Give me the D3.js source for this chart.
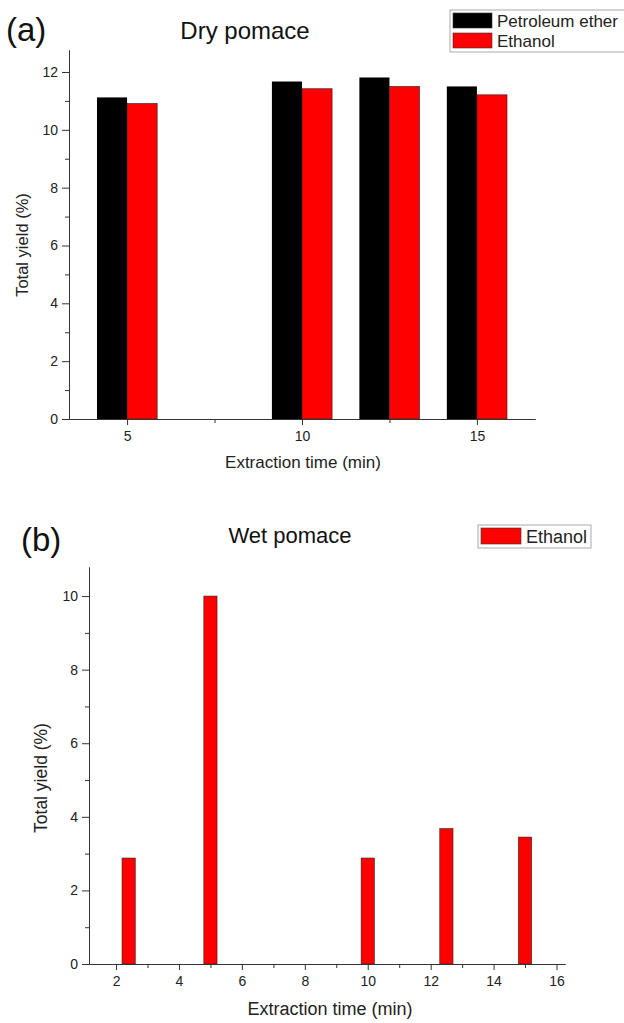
<!DOCTYPE html>
<html>
<head>
<meta charset="utf-8">
<script src="https://cdn.jsdelivr.net/npm/d3@7"></script>
<style>
  body { margin: 0; background: #fff; }
  svg { font-family: "Liberation Sans", Arial, sans-serif; }
  .tick text { font-family: "Liberation Sans", Arial, sans-serif; font-size: 14px; fill: #222; }
  .axis path, .axis line { stroke: #333; }
</style>
</head>
<body>
<svg id="chart" width="624" height="1023"></svg>
<script>
// panel (a) dry pomace
var dryTimes = [5, 10, 12.5, 15];
var dryPetroleum = [11.12, 11.67, 11.81, 11.5];
var dryEthanol = [10.91, 11.42, 11.5, 11.21];
var dryXTicks = [5, 10, 15], dryXMinor = [7.5, 12.5];
var dryYTicks = [0, 2, 4, 6, 8, 10, 12], dryYMinor = [1, 3, 5, 7, 9, 11];

// panel (b) wet pomace
var wetTimes = [2.4, 5, 10, 12.5, 15];
var wetEthanol = [2.88, 10.0, 2.88, 3.68, 3.45];
var wetXTicks = [2, 4, 6, 8, 10, 12, 14, 16], wetXMinor = [3, 5, 7, 9, 11, 13, 15];
var wetYTicks = [0, 2, 4, 6, 8, 10], wetYMinor = [1, 3, 5, 7, 9];

var svg = d3.select("#chart");

function drawAxes(x, y, xt, xm, yt, ym) {
  var bottom = y.range()[0], left = x.range()[0];
  svg.append("g").attr("class", "axis")
      .attr("transform", "translate(0," + bottom + ")")
      .call(d3.axisBottom(x).tickValues(xm).tickSize(4).tickSizeOuter(0).tickFormat(""));
  svg.append("g").attr("class", "axis")
      .attr("transform", "translate(0," + bottom + ")")
      .call(d3.axisBottom(x).tickValues(xt).tickSize(6).tickSizeOuter(0).tickPadding(6));
  svg.append("g").attr("class", "axis")
      .attr("transform", "translate(" + left + ",0)")
      .call(d3.axisLeft(y).tickValues(ym).tickSize(4).tickSizeOuter(0).tickFormat(""));
  svg.append("g").attr("class", "axis")
      .attr("transform", "translate(" + left + ",0)")
      .call(d3.axisLeft(y).tickValues(yt).tickSize(7).tickSizeOuter(0).tickPadding(4));
}

// ---- (a)
var xa = d3.scaleLinear().domain([3.34, 16.66]).range([69, 535]);
var ya = d3.scaleLinear().domain([0, 12.76]).range([419, 50]);
var bwA = 0.86;

svg.append("g").selectAll("rect.pe")
  .data(dryTimes)
  .enter().append("rect")
    .attr("x", function(d) { return xa(d - bwA); })
    .attr("width", function(d) { return xa(d) - xa(d - bwA); })
    .attr("y", function(d, i) { return ya(dryPetroleum[i]); })
    .attr("height", function(d, i) { return ya(0) - ya(dryPetroleum[i]); })
    .attr("fill", "#000");

svg.append("g").selectAll("rect.et")
  .data(dryTimes)
  .enter().append("rect")
    .attr("x", function(d) { return xa(d); })
    .attr("width", function(d) { return xa(d + bwA) - xa(d); })
    .attr("y", function(d, i) { return ya(dryEthanol[i]); })
    .attr("height", function(d, i) { return ya(0) - ya(dryEthanol[i]); })
    .attr("fill", "#ff0000")
    .attr("stroke", "#222")
    .attr("stroke-width", 0.6);

drawAxes(xa, ya, dryXTicks, dryXMinor, dryYTicks, dryYMinor);

svg.append("text").attr("x", 6).attr("y", 41)
  .style("font-size", "33px").style("fill", "#111").text("(a)");
svg.append("text").attr("x", 245).attr("y", 39).attr("text-anchor", "middle")
  .style("font-size", "24px").style("fill", "#111").text("Dry pomace");
svg.append("text").attr("x", 303).attr("y", 468).attr("text-anchor", "middle")
  .style("font-size", "17px").style("fill", "#222").text("Extraction time (min)");
svg.append("text").attr("transform", "translate(" + [28, 245] + ") rotate(-90)")
  .attr("text-anchor", "middle")
  .style("font-size", "16.5px").style("fill", "#222").text("Total yield (%)");

// legend (a)
var legA = svg.append("g");
legA.append("rect").attr("x", 450).attr("y", 10).attr("width", 190).attr("height", 42)
  .attr("fill", "#fff").attr("stroke", "#aaa");
[["Petroleum ether", "#000"], ["Ethanol", "#ff0000"]].forEach(function(d, i) {
  legA.append("rect").attr("x", 453).attr("y", 13 + i * 20).attr("width", 39).attr("height", 15)
    .attr("fill", d[1]).attr("stroke", "#333").attr("stroke-width", 0.6);
  legA.append("text").attr("x", 497).attr("y", 27 + i * 20)
    .style("font-size", "17px").style("fill", "#222").text(d[0]);
});

// ---- (b)
var xb = d3.scaleLinear().domain([1.14, 16.27]).range([89, 565]);
var yb = d3.scaleLinear().domain([0, 10.79]).range([964, 567]);
var bwB = 0.42;

svg.append("g").selectAll("rect")
  .data(wetTimes)
  .enter().append("rect")
    .attr("x", function(d) { return xb(d - bwB / 2); })
    .attr("width", function(d) { return xb(d + bwB / 2) - xb(d - bwB / 2); })
    .attr("y", function(d, i) { return yb(wetEthanol[i]); })
    .attr("height", function(d, i) { return yb(0) - yb(wetEthanol[i]); })
    .attr("fill", "#ff0000")
    .attr("stroke", "#222")
    .attr("stroke-width", 0.6);

drawAxes(xb, yb, wetXTicks, wetXMinor, wetYTicks, wetYMinor);

svg.append("text").attr("x", 21).attr("y", 551)
  .style("font-size", "33px").style("fill", "#111").text("(b)");
svg.append("text").attr("x", 290).attr("y", 543).attr("text-anchor", "middle")
  .style("font-size", "22px").style("fill", "#111").text("Wet pomace");
svg.append("text").attr("x", 330).attr("y", 1015).attr("text-anchor", "middle")
  .style("font-size", "18px").style("fill", "#222").text("Extraction time (min)");
svg.append("text").attr("transform", "translate(" + [47, 778] + ") rotate(-90)")
  .attr("text-anchor", "middle")
  .style("font-size", "17.5px").style("fill", "#222").text("Total yield (%)");

// legend (b)
var legB = svg.append("g");
legB.append("rect").attr("x", 478).attr("y", 525).attr("width", 113).attr("height", 23)
  .attr("fill", "#fff").attr("stroke", "#aaa");
legB.append("rect").attr("x", 481).attr("y", 528).attr("width", 40).attr("height", 16)
  .attr("fill", "#ff0000").attr("stroke", "#333").attr("stroke-width", 0.6);
legB.append("text").attr("x", 526).attr("y", 543)
  .style("font-size", "18px").style("fill", "#222").text("Ethanol");
</script>
</body>
</html>
